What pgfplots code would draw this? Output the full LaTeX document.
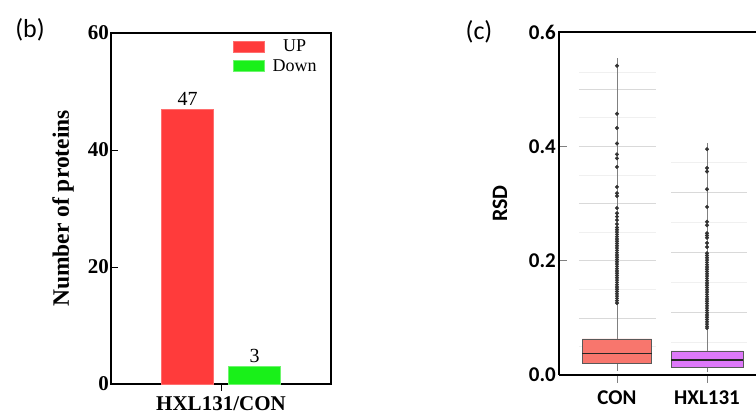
\documentclass[border=0pt]{standalone}
\usepackage{fontspec}
\setmainfont{Liberation Serif}
\newfontfamily\carlito{Carlito}
\usepackage{pgfplots}
\usepackage{pgfplotstable}
\pgfplotsset{compat=1.18}
\definecolor{barred}{RGB}{255,59,59}
\definecolor{baredge}{RGB}{255,110,110}
\definecolor{bargreen}{RGB}{25,240,25}
\definecolor{greenedge}{RGB}{110,245,110}
\definecolor{conbox}{RGB}{248,118,109}
\definecolor{hxlbox}{RGB}{222,120,250}
\pgfplotstableread{
y
0.541
0.457
0.432
0.405
0.386
0.379
0.364
0.329
0.318
0.313
0.292
0.283
0.277
0.271
0.264
0.258
0.254
0.250
0.246
0.242
0.238
0.234
0.230
0.226
0.222
0.218
0.214
0.210
0.206
0.202
0.198
0.194
0.190
0.186
0.182
0.178
0.174
0.170
0.166
0.162
0.158
0.154
0.150
0.146
0.142
0.138
0.134
0.130
0.126
}\conout
\pgfplotstableread{
y
0.395
0.362
0.356
0.325
0.294
0.268
0.262
0.248
0.244
0.240
0.231
0.224
0.213
0.209
0.205
0.201
0.197
0.193
0.189
0.185
0.181
0.177
0.173
0.169
0.165
0.161
0.157
0.153
0.149
0.145
0.141
0.137
0.133
0.129
0.125
0.121
0.117
0.113
0.109
0.105
0.101
0.097
0.093
0.089
0.085
0.082
}\hxlout
\begin{document}
\begin{tikzpicture}[x=1pt,y=1pt]
\useasboundingbox (0,0) rectangle (756,414);
\node[font=\carlito\fontsize{26}{30}\selectfont] at (30,384) {(b)};
\node[font=\carlito\fontsize{26}{30}\selectfont] at (479,382) {(c)};

\begin{axis}[
  at={(111pt,30pt)}, anchor=south west,
  scale only axis, width=220pt, height=351pt,
  xmin=0, xmax=1, ymin=0, ymax=60,
  ytick={0,20,40,60}, xtick={0.5}, xticklabels={HXL131/CON},
  ytick pos=left, xtick pos=bottom,
  /pgf/number format/assume math mode=true,
  tick label style={font=\bfseries\fontsize{21}{24}\selectfont},
  yticklabel style={inner xsep=2pt},
  xticklabel style={yshift=-2pt},
  ytick align=inside, xtick align=outside,
  major tick length=7pt,
  tick style={black, line width=0.8pt},
  axis line style={line width=1.2pt},
  ylabel={Number of proteins},
  every axis y label/.style={at={(rel axis cs:0,0.5)}, xshift=-48pt, rotate=90, anchor=center,
    font=\bfseries\fontsize{23.5}{26}\selectfont},
  ybar=15pt, bar width=52pt,
  legend style={at={(rel axis cs:0.555,0.986)}, anchor=north west, draw=none, fill=none,
    font=\fontsize{18}{21}\selectfont, row sep=2pt, inner sep=0pt,
    nodes={inner xsep=8pt}},
  legend image code/.code={\fill[#1] (0pt,-5.5pt) rectangle (31pt,5.5pt);},
  nodes near coords,
  every node near coord/.append style={font=\fontsize{20}{22}\selectfont, black},
  clip=false,
]
\addplot[fill=barred, draw=baredge] coordinates {(0.5,47)};
\addplot[fill=bargreen, draw=greenedge] coordinates {(0.5,3)};
\legend{UP,Down}
\end{axis}

\begin{axis}[
  at={(559pt,39pt)}, anchor=south west,
  scale only axis, width=197pt, height=343pt,
  xmin=0.356, xmax=2.544, ymin=0, ymax=0.6,
  axis lines=left, axis line style={-, line width=1.8pt},
  ytick={0,0.2,0.4,0.6}, xtick={1,2}, xticklabels={CON,HXL131},
  ytick pos=left, xtick pos=bottom,
  /pgf/number format/.cd, fixed, fixed zerofill, precision=1, assume math mode=true, /pgfplots/.cd,
  tick label style={font=\carlito\bfseries\fontsize{21}{24}\selectfont},
  yticklabel style={inner xsep=3pt},
  xticklabel style={yshift=-4pt},
  ytick align=inside, xtick align=outside, major tick length=8pt,
  tick style={gray, line width=0.6pt},
  ylabel={RSD},
  every axis y label/.style={at={(rel axis cs:0,0.5)}, xshift=-59pt, rotate=90, anchor=center,
    font=\carlito\bfseries\fontsize{22}{24}\selectfont},
  clip=false,
]
% faint per-group grid, CON
\addplot[gray!12, line width=0.5pt] coordinates {(0.578,0.05)(1.434,0.05)};
\addplot[gray!12, line width=0.5pt] coordinates {(0.578,0.15)(1.434,0.15)};
\addplot[gray!12, line width=0.5pt] coordinates {(0.578,0.25)(1.434,0.25)};
\addplot[gray!12, line width=0.5pt] coordinates {(0.578,0.35)(1.434,0.35)};
\addplot[gray!12, line width=0.5pt] coordinates {(0.578,0.45)(1.434,0.45)};
\addplot[gray!12, line width=0.5pt] coordinates {(0.578,0.53)(1.434,0.53)};
\addplot[gray!30, line width=0.6pt] coordinates {(0.578,0.1)(1.434,0.1)};
\addplot[gray!30, line width=0.6pt] coordinates {(0.578,0.2)(1.434,0.2)};
\addplot[gray!30, line width=0.6pt] coordinates {(0.578,0.3)(1.434,0.3)};
\addplot[gray!30, line width=0.6pt] coordinates {(0.578,0.4)(1.434,0.4)};
\addplot[gray!30, line width=0.6pt] coordinates {(0.578,0.5)(1.434,0.5)};
% faint per-group grid, HXL131
\addplot[gray!12, line width=0.5pt] coordinates {(1.60,0.058)(2.445,0.058)};
\addplot[gray!12, line width=0.5pt] coordinates {(1.60,0.163)(2.445,0.163)};
\addplot[gray!12, line width=0.5pt] coordinates {(1.60,0.268)(2.445,0.268)};
\addplot[gray!12, line width=0.5pt] coordinates {(1.60,0.372)(2.445,0.372)};
\addplot[gray!30, line width=0.6pt] coordinates {(1.60,0.110)(2.445,0.110)};
\addplot[gray!30, line width=0.6pt] coordinates {(1.60,0.215)(2.445,0.215)};
\addplot[gray!30, line width=0.6pt] coordinates {(1.60,0.320)(2.445,0.320)};

% whiskers (line runs through outliers)
\addplot[gray, line width=0.6pt] coordinates {(1,0.007)(1,0.555)};
\addplot[gray, line width=0.6pt] coordinates {(2,0.005)(2,0.406)};
% boxes: Q1..Q3
\addplot[fill=conbox, draw=gray!70!black, line width=0.6pt] coordinates {(0.615,0.021)(1.385,0.021)(1.385,0.063)(0.615,0.063)(0.615,0.021)};
\addplot[fill=hxlbox, draw=gray!70!black, line width=0.6pt] coordinates {(1.60,0.014)(2.40,0.014)(2.40,0.042)(1.60,0.042)(1.60,0.014)};
% medians
\addplot[black!85, line width=1.3pt] coordinates {(0.615,0.037)(1.385,0.037)};
\addplot[black!85, line width=1.3pt] coordinates {(1.60,0.026)(2.40,0.026)};
% outliers
\addplot[only marks, mark=*, mark size=1.8pt, mark options={fill=black!80, draw=black!80}]
  table[x expr=1, y=y] {\conout};
\addplot[only marks, mark=*, mark size=1.8pt, mark options={fill=black!80, draw=black!80}]
  table[x expr=2, y=y] {\hxlout};

\draw[line width=1.8pt, line cap=rect] (rel axis cs:0,1) -- (rel axis cs:1.05,1);
\end{axis}
\end{tikzpicture}
\end{document}
